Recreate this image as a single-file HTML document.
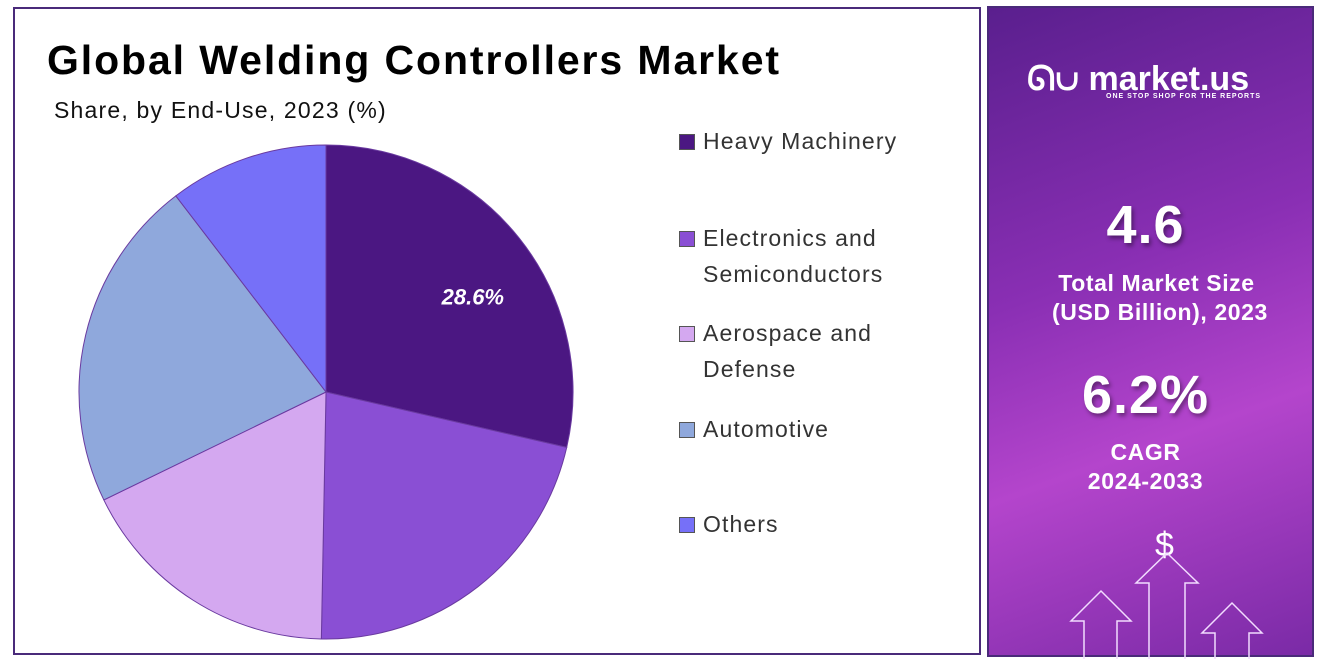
<!DOCTYPE html>
<html><head><meta charset="utf-8"><style>
body{margin:0;width:1326px;height:668px;background:#fff;position:relative;overflow:hidden;font-family:"Liberation Sans",sans-serif}
#left{position:absolute;left:13px;top:7px;width:968px;height:648px;border:2px solid #4a2a7a;box-sizing:border-box}
#title{position:absolute;left:47px;top:37px;font-size:41px;font-weight:bold;color:#000;letter-spacing:1.9px}
#sub{position:absolute;left:54px;top:97px;font-size:23px;color:#111;letter-spacing:1.2px}
.leg{position:absolute;left:703px;font-size:23px;color:#333;line-height:36px;letter-spacing:1.1px}
.sw{position:absolute;left:-24px;top:11px;width:14px;height:14px;border:1px solid #555}
#panel{position:absolute;left:987px;top:6px;width:327px;height:651px;background:linear-gradient(160deg,#5a1f8e 0%,#8a2fb4 40%,#b445cc 65%,#7a2aa6 100%);border:2px solid #4a2a7a;box-sizing:border-box;color:#fff;text-align:center}
.big{position:absolute;width:100%;font-weight:bold;font-size:54px;letter-spacing:1px;text-shadow:2px 3px 4px rgba(0,0,0,.4)}
.med{position:absolute;width:100%;font-weight:bold;font-size:23px;line-height:29px;letter-spacing:0.6px}
</style></head><body>
<div id="left"></div>
<div id="title">Global Welding Controllers Market</div>
<div id="sub">Share, by End-Use, 2023 (%)</div>
<svg id="pie" width="1326" height="668" style="position:absolute;left:0;top:0"></svg>
<div class="leg" style="top:123px"><span class="sw" style="background:#4b1782"></span>Heavy Machinery</div>
<div class="leg" style="top:220px"><span class="sw" style="background:#8a4fd4"></span>Electronics and<br>Semiconductors</div>
<div class="leg" style="top:315px"><span class="sw" style="background:#d4a8f0"></span>Aerospace and<br>Defense</div>
<div class="leg" style="top:411px"><span class="sw" style="background:#8fa8dc"></span>Automotive</div>
<div class="leg" style="top:506px"><span class="sw" style="background:#7670f8"></span>Others</div>
<div id="panel">
<div style="position:absolute;left:38px;top:52px;font-size:34px;font-weight:bold">ᘏ∪ market.us</div>
<div style="position:absolute;left:117px;top:85px;font-size:7px;font-weight:bold;letter-spacing:1px">ONE STOP SHOP FOR THE REPORTS</div>
<div class="big" style="top:186px;left:-5px">4.6</div>
<div class="med" style="top:261px;left:6px">Total Market Size<br>&nbsp;(USD Billion), 2023</div>
<div class="big" style="top:356px;left:-5px">6.2%</div>
<div class="med" style="top:430px;left:-5px">CAGR<br>2024-2033</div>
<div style="position:absolute;left:166px;top:518px;font-size:34px">$</div>
<svg width="327" height="651" style="position:absolute;left:0;top:0"><g fill="none" stroke="#f2dcff" stroke-width="1.5">
<path d="M95 651V613H82L112 583 142 613H128V651"/><path d="M160 651V575H147L178 545 209 575H196V651"/><path d="M226 651V625H213L243 595 273 625H260V651"/></g></svg>
</div>
<script>
const categories=["Heavy Machinery","Electronics and Semiconductors","Aerospace and Defense","Automotive","Others"];
const values=[28.6,21.7,17.5,21.8,10.4];
const colors=["#4b1782","#8a4fd4","#d4a8f0","#8fa8dc","#7670f8"];
const labels=["28.6%","","","",""];
const svg=document.getElementById('pie');const NS="http://www.w3.org/2000/svg";
const cx=326,cy=392,r=247;const total=values.reduce((a,b)=>a+b,0);
function pt(a,rr){return [cx+rr*Math.sin(a),cy-rr*Math.cos(a)];}
let a0=0;
values.forEach((v,i)=>{const a1=a0+v/total*2*Math.PI;const p0=pt(a0,r),p1=pt(a1,r);
const p=document.createElementNS(NS,'path');
p.setAttribute('d',`M${cx},${cy}L${p0[0]},${p0[1]}A${r},${r} 0 ${a1-a0>Math.PI?1:0} 1 ${p1[0]},${p1[1]}Z`);
p.setAttribute('fill',colors[i]);p.setAttribute('stroke','#6a3aa0');p.setAttribute('stroke-width','1');


svg.appendChild(p);
if(labels[i]){const m=pt((a0+a1)/2,r*0.62);const t=document.createElementNS(NS,'text');
t.setAttribute('x',m[0]+27);t.setAttribute('y',m[1]+8);t.setAttribute('text-anchor','middle');t.setAttribute('fill','#fff');
t.setAttribute('font-size','22');t.setAttribute('font-weight','bold');t.setAttribute('font-style','italic');t.setAttribute('font-family','Liberation Sans, sans-serif');
t.textContent=labels[i];


svg.appendChild(t);}
a0=a1;});
</script>
</body></html>
